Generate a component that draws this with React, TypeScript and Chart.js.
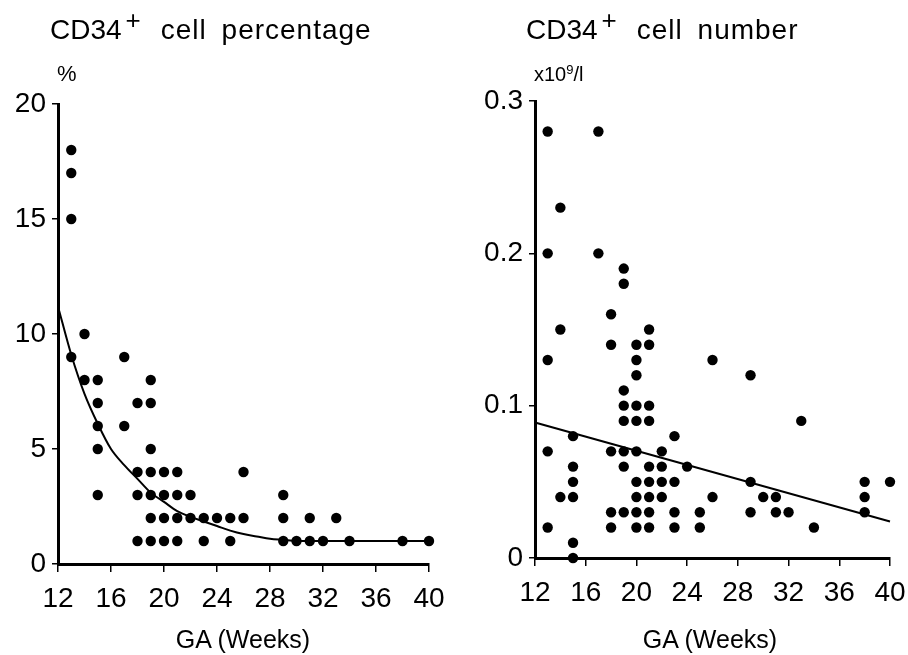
import React, { useEffect, useRef } from "react";
import { Chart, registerables } from "chart.js";

Chart.register(...registerables);

// ---- Left panel: CD34+ cell percentage (%) vs GA (weeks)
const pctWeeks = [13, 14, 15, 17, 18, 19, 20, 21, 22, 23, 24, 25, 26, 29, 30, 31, 32, 33, 34, 38, 40];
const pctValues = [
  [18, 17, 15, 9],
  [10, 8],
  [8, 7, 6, 5, 3],
  [9, 6],
  [7, 4, 3, 1],
  [8, 7, 5, 4, 3, 2, 1],
  [4, 3, 2, 1],
  [4, 3, 2, 1],
  [3, 2],
  [2, 1],
  [2],
  [2, 1],
  [4, 2],
  [3, 2, 1],
  [1],
  [2, 1],
  [1],
  [2],
  [1],
  [1],
  [1],
];
const pctFitWeeks = [12, 13, 14, 15, 16, 17, 18, 19, 20, 21, 22, 23, 24, 25, 26, 27, 28, 29, 30, 40];
const pctFitValues = [11.2, 9.1, 7.4, 6.1, 5.0, 4.3, 3.7, 3.1, 2.7, 2.3, 2.05, 1.85, 1.65, 1.45, 1.3, 1.2, 1.1, 1.05, 1.0, 1.0];
const pctTicks = [0, 5, 10, 15, 20];

// ---- Right panel: CD34+ cell number (x10^9/l) vs GA (weeks)
const numWeeks = [13, 14, 15, 17, 18, 19, 20, 21, 22, 23, 24, 25, 26, 29, 30, 31, 32, 33, 34, 38, 40];
const numValues = [
  [0.28, 0.2, 0.13, 0.07, 0.02],
  [0.23, 0.15, 0.04],
  [0.08, 0.06, 0.05, 0.04, 0.01, 0],
  [0.28, 0.2],
  [0.16, 0.14, 0.07, 0.03, 0.02],
  [0.19, 0.18, 0.11, 0.1, 0.09, 0.07, 0.06, 0.03],
  [0.14, 0.13, 0.12, 0.1, 0.09, 0.07, 0.05, 0.04, 0.03, 0.02],
  [0.15, 0.14, 0.1, 0.09, 0.06, 0.05, 0.04, 0.03, 0.02],
  [0.07, 0.06, 0.05, 0.04],
  [0.08, 0.05, 0.03, 0.02],
  [0.06],
  [0.03, 0.02],
  [0.13, 0.04],
  [0.12, 0.05, 0.03],
  [0.04],
  [0.04, 0.03],
  [0.03],
  [0.09],
  [0.02],
  [0.05, 0.04, 0.03],
  [0.05],
];
const numFitWeeks = [12, 40];
const numFitValues = [0.089, 0.024];
const numTicks = [0, 0.1, 0.2, 0.3];

const xTicks = [12, 16, 20, 24, 28, 32, 36, 40];

const FONT = '"Liberation Sans", Arial, Helvetica, sans-serif';

function toPoints(weeks: number[], values: number[][]) {
  const pts: { x: number; y: number }[] = [];
  weeks.forEach((w, i) => values[i].forEach((v) => pts.push({ x: w, y: v })));
  return pts;
}

function toLine(weeks: number[], values: number[]) {
  return weeks.map((w, i) => ({ x: w, y: values[i] }));
}

interface PanelProps {
  points: { x: number; y: number }[];
  fit: { x: number; y: number }[];
  yMax: number;
  yTicks: number[];
  yFmt: (v: number) => string;
  axisWidth: number;
  xAxisHeight: number;
  padTop: number;
  padRight: number;
  smooth: boolean;
}

function Panel(p: PanelProps) {
  const ref = useRef<HTMLCanvasElement | null>(null);
  useEffect(() => {
    if (!ref.current) return;
    const chart = new Chart(ref.current, {
      type: "scatter",
      data: {
        datasets: [
          {
            data: p.points,
            backgroundColor: "#000",
            borderWidth: 0,
            pointRadius: 5.2,
            clip: false,
          } as any,
          {
            type: "line",
            data: p.fit,
            borderColor: "#000",
            borderWidth: 2,
            pointRadius: 0,
            showLine: true,
            fill: false,
            cubicInterpolationMode: p.smooth ? "monotone" : "default",
            clip: false,
          } as any,
        ],
      },
      options: {
        animation: false,
        responsive: false,
        events: [],
        layout: { padding: { top: p.padTop, right: p.padRight, left: 0, bottom: 0 } },
        plugins: { legend: { display: false }, tooltip: { enabled: false }, title: { display: false } },
        scales: {
          x: {
            type: "linear",
            min: 12,
            max: 40,
            afterBuildTicks: (s: any) => {
              s.ticks = xTicks.map((v) => ({ value: v }));
            },
            afterFit: (s: any) => {
              s.height = p.xAxisHeight;
              s.paddingLeft = 0;
              s.paddingRight = 0;
            },
            ticks: {
              color: "#000",
              font: { family: FONT, size: 28 },
              padding: 10,
              maxRotation: 0,
              autoSkip: false,
              callback: (v: any) => String(v),
            },
            grid: { display: true, drawOnChartArea: false, drawTicks: true, tickLength: 8, color: "#000", lineWidth: 1.5 },
            border: { display: true, color: "#000", width: 3 },
          },
          y: {
            type: "linear",
            min: 0,
            max: p.yMax,
            afterBuildTicks: (s: any) => {
              s.ticks = p.yTicks.map((v) => ({ value: v }));
            },
            afterFit: (s: any) => {
              s.width = p.axisWidth;
              s.paddingTop = 0;
              s.paddingBottom = 0;
            },
            ticks: {
              color: "#000",
              font: { family: FONT, size: 28 },
              padding: 6,
              autoSkip: false,
              callback: (v: any) => p.yFmt(Number(v)),
            },
            grid: { display: true, drawOnChartArea: false, drawTicks: true, tickLength: 6, color: "#000", lineWidth: 1.5 },
            border: { display: true, color: "#000", width: 3 },
          },
        },
      } as any,
    });
    return () => chart.destroy();
  }, []);
  return <canvas ref={ref} width={454} height={655} style={{ display: "block" }} />;
}

const textBase: React.CSSProperties = {
  position: "absolute",
  fontFamily: FONT,
  color: "#000",
  whiteSpace: "pre",
};

export default function App() {
  return (
    <div style={{ position: "absolute", left: 0, top: 0, width: 908, height: 655, background: "#fff", overflow: "hidden" }}>
      <div style={{ position: "absolute", left: 0, top: 0, width: 454, height: 655 }}>
        <Panel
          points={toPoints(pctWeeks, pctValues)}
          fit={toLine(pctFitWeeks, pctFitValues)}
          yMax={20}
          yTicks={pctTicks}
          yFmt={(v) => String(v)}
          axisWidth={58}
          xAxisHeight={91}
          padTop={104}
          padRight={25}
          smooth={true}
        />
      </div>
      <div style={{ position: "absolute", left: 454, top: 0, width: 454, height: 655 }}>
        <Panel
          points={toPoints(numWeeks, numValues)}
          fit={toLine(numFitWeeks, numFitValues)}
          yMax={0.3}
          yTicks={numTicks}
          yFmt={(v) => (v === 0 ? "0" : v.toFixed(1))}
          axisWidth={81}
          xAxisHeight={97}
          padTop={101}
          padRight={18}
          smooth={false}
        />
      </div>

      {/* Titles */}
      <div style={{ ...textBase, left: 50, top: 16, fontSize: 28, lineHeight: "28px" }}>
        CD34
        <span style={{ fontSize: 26, position: "relative", top: -10, marginLeft: 4 }}>+</span>
        <span style={{ marginLeft: 20, letterSpacing: 1, wordSpacing: 6 }}>cell percentage</span>
      </div>
      <div style={{ ...textBase, left: 526, top: 16, fontSize: 28, lineHeight: "28px" }}>
        CD34
        <span style={{ fontSize: 26, position: "relative", top: -10, marginLeft: 4 }}>+</span>
        <span style={{ marginLeft: 20, letterSpacing: 1, wordSpacing: 6 }}>cell number</span>
      </div>

      {/* Units */}
      <div style={{ ...textBase, left: 57, top: 63, fontSize: 22, lineHeight: "22px" }}>%</div>
      <div style={{ ...textBase, left: 534, top: 64, fontSize: 20, lineHeight: "20px" }}>
        x10<span style={{ fontSize: 13, position: "relative", top: -7 }}>9</span>/l
      </div>

      {/* X axis titles */}
      <div style={{ ...textBase, left: 243, top: 627, fontSize: 25, lineHeight: "25px", transform: "translateX(-50%)" }}>
        GA (Weeks)
      </div>
      <div style={{ ...textBase, left: 710, top: 627, fontSize: 25, lineHeight: "25px", transform: "translateX(-50%)" }}>
        GA (Weeks)
      </div>
    </div>
  );
}
